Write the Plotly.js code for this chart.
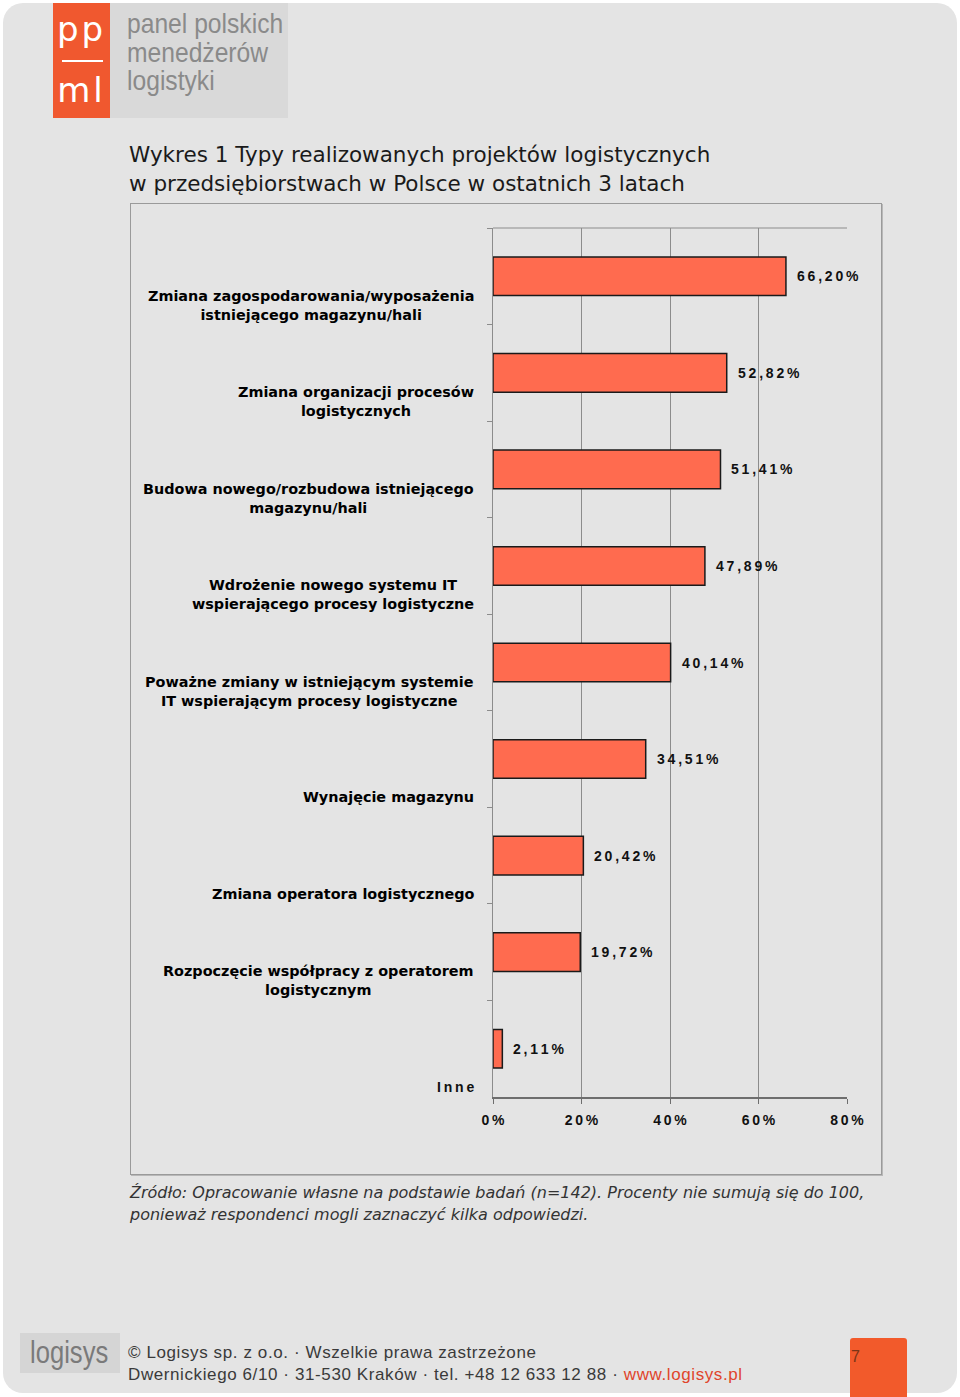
<!DOCTYPE html>
<html>
<head>
<meta charset="utf-8">
<script src="https://cdn.plot.ly/plotly-3.0.1.min.js"></script>
<style>
  body { margin: 0; background: #fff; }
  #page { position: relative; width: 960px; height: 1397px; overflow: hidden; background: #fff; }
  .abs { position: absolute; }
  #bg { left: 3px; top: 3px; width: 954px; height: 1390px; background: #e4e4e4; border-radius: 20px; }
  #graph { left: 0; top: 0; width: 960px; height: 1397px; }
  .narrow { transform-origin: 0 0; white-space: nowrap; }
</style>
</head>
<body>
<div id="page">
  <div id="bg" class="abs"></div>

  <!-- logo ppml -->
  <div class="abs" style="left:53px;top:3px;width:57px;height:115px;background:#f0582f;"></div>
  <div class="abs" style="left:53px;top:9px;width:57px;text-align:center;color:#fff;font:34px 'DejaVu Sans';letter-spacing:3px;">pp</div>
  <div class="abs" style="left:62px;top:60px;width:41px;height:2px;background:#fff;"></div>
  <div class="abs" style="left:53px;top:70px;width:57px;text-align:center;color:#fff;font:34px 'DejaVu Sans';letter-spacing:3px;">ml</div>
  <div class="abs" style="left:110px;top:3px;width:178px;height:115px;background:#d9d9d9;"></div>
  <div class="abs narrow" style="left:127px;top:10px;color:#8a8a8a;font:28px/28.5px 'Liberation Sans';transform:scaleX(0.88);">panel polskich<br>menedżerów<br>logistyki</div>

  <!-- chart box -->
  <div class="abs" style="left:130px;top:203px;width:750px;height:970px;border:1px solid #9a9a9a;box-shadow:1px 1px 0 #b8b8b8;"></div>

  <!-- footer -->
  <div class="abs" style="left:20px;top:1333px;width:100px;height:40px;background:#d5d5d5;"></div>
  <div class="abs narrow" style="left:30px;top:1334px;color:#7a7a7a;font:32px/36px 'Liberation Sans';transform:scaleX(0.8);">logisys</div>
  <div class="abs" style="left:128px;top:1342px;color:#3a3a3a;font:17px/22px 'Liberation Sans';letter-spacing:0.6px;white-space:nowrap;">© Logisys sp. z o.o. · Wszelkie prawa zastrzeżone<br>Dwernickiego 6/10 · 31-530 Kraków · tel. +48 12 633 12 88 · <span style="color:#e0452b;">www.logisys.pl</span></div>
  <div class="abs" style="left:850px;top:1338px;width:57px;height:62px;background:#f25a2b;border-radius:3px;"></div>
  <div class="abs" style="left:851px;top:1348px;color:#7a3416;font:16px 'Liberation Sans';">7</div>

  <div id="graph" class="abs"></div>
</div>
<script>
// data
var categories = [
  'Zmiana zagospodarowania/wyposażenia<br>istniejącego magazynu/hali',
  'Zmiana organizacji procesów<br>logistycznych',
  'Budowa nowego/rozbudowa istniejącego<br>magazynu/hali',
  'Wdrożenie nowego systemu IT<br>wspierającego procesy logistyczne',
  'Poważne zmiany w istniejącym systemie<br>IT wspierającym procesy logistyczne',
  'Wynajęcie magazynu',
  'Zmiana operatora logistycznego',
  'Rozpoczęcie współpracy z operatorem<br>logistycznym',
  'Inne'
];
var values = [66.20, 52.82, 51.41, 47.89, 40.14, 34.51, 20.42, 19.72, 2.11];
var tickValues = [0, 20, 40, 60, 80];
var titleLines = ['Wykres 1 Typy realizowanych projektów logistycznych',
                  'w przedsiębiorstwach w Polsce w ostatnich 3 latach'];
var sourceLines = ['Źródło: Opracowanie własne na podstawie badań (n=142). Procenty nie sumują się do 100,',
                   'ponieważ respondenci mogli zaznaczyć kilka odpowiedzi.'];

var W = 960, H = 1397;
function px(x) { return x / W; }
function py(y) { return 1 - y / H; }
// spread characters a little, like the original letter-spaced labels
function spaced(s) { return s.split('').join('\u2009'); }
function pct(v) { return v.toFixed(2).replace('.', ',') + '%'; }

var labelFont = {family: 'DejaVu Sans', size: 14.4, weight: 'bold', color: '#000'};
var numFont = {family: 'Liberation Sans', size: 14, weight: 'bold', color: '#111'};

var data = [{
  type: 'bar',
  orientation: 'h',
  x: values,
  y: categories,
  width: 0.4,
  marker: {color: '#ff6b4f', line: {color: '#1a1a1a', width: 1.5}},
  hoverinfo: 'none'
}];

var annotations = [];
categories.forEach(function (c, i) {
  var isShort = c === 'Inne';
  annotations.push({
    xref: 'paper', x: px(476), xanchor: 'right',
    yref: 'y', y: i + 0.5, yanchor: 'bottom', yshift: 0,
    text: isShort ? spaced(c) : c, align: 'center', showarrow: false,
    font: isShort ? numFont : labelFont
  });
});
values.forEach(function (v, i) {
  annotations.push({
    xref: 'x', x: v, xanchor: 'left', xshift: 9,
    yref: 'y', y: i, yanchor: 'middle',
    text: spaced(pct(v)), showarrow: false, font: numFont
  });
});
titleLines.forEach(function (t, i) {
  annotations.push({
    xref: 'paper', x: px(127), xanchor: 'left',
    yref: 'paper', y: py(155 + i * 29), yanchor: 'middle',
    text: t, showarrow: false,
    font: {family: 'DejaVu Sans', size: 21.5, color: '#1a1a1a'}
  });
});
sourceLines.forEach(function (t, i) {
  annotations.push({
    xref: 'paper', x: px(127), xanchor: 'left',
    yref: 'paper', y: py(1192 + i * 22), yanchor: 'middle',
    text: '<i>' + t + '</i>', showarrow: false,
    font: {family: 'DejaVu Sans', size: 16, color: '#333'}
  });
});

var layout = {
  width: W, height: H,
  margin: {l: 0, r: 0, t: 0, b: 0},
  paper_bgcolor: 'rgba(0,0,0,0)',
  plot_bgcolor: 'rgba(0,0,0,0)',
  showlegend: false,
  xaxis: {
    domain: [px(493), px(847)],
    range: [0, 80],
    tickvals: tickValues,
    ticktext: tickValues.map(function (v) { return spaced(v + '%'); }),
    showgrid: true, gridcolor: '#8c8c8c', gridwidth: 1,
    zeroline: false,
    showline: true, linecolor: '#6e6e6e', linewidth: 1.5,
    ticks: 'outside', ticklen: 5, tickcolor: '#6e6e6e',
    ticklabelstandoff: 5,
    tickfont: numFont,
    fixedrange: true
  },
  yaxis: {
    domain: [py(1097), py(228)],
    type: 'category',
    categoryorder: 'array', categoryarray: categories,
    range: [8.5, -0.5],
    showticklabels: false,
    showgrid: false, zeroline: false,
    showline: true, linecolor: '#8c8c8c', linewidth: 1,
    ticks: 'outside', tickson: 'boundaries', ticklen: 5, tickcolor: '#8c8c8c',
    fixedrange: true
  },
  shapes: [{
    type: 'line', xref: 'x', x0: 0, x1: 80, yref: 'y domain', y0: 1, y1: 1,
    line: {color: '#8c8c8c', width: 1}
  }],
  annotations: annotations
};

Plotly.newPlot('graph', data, layout, {staticPlot: true});
</script>
</body>
</html>
